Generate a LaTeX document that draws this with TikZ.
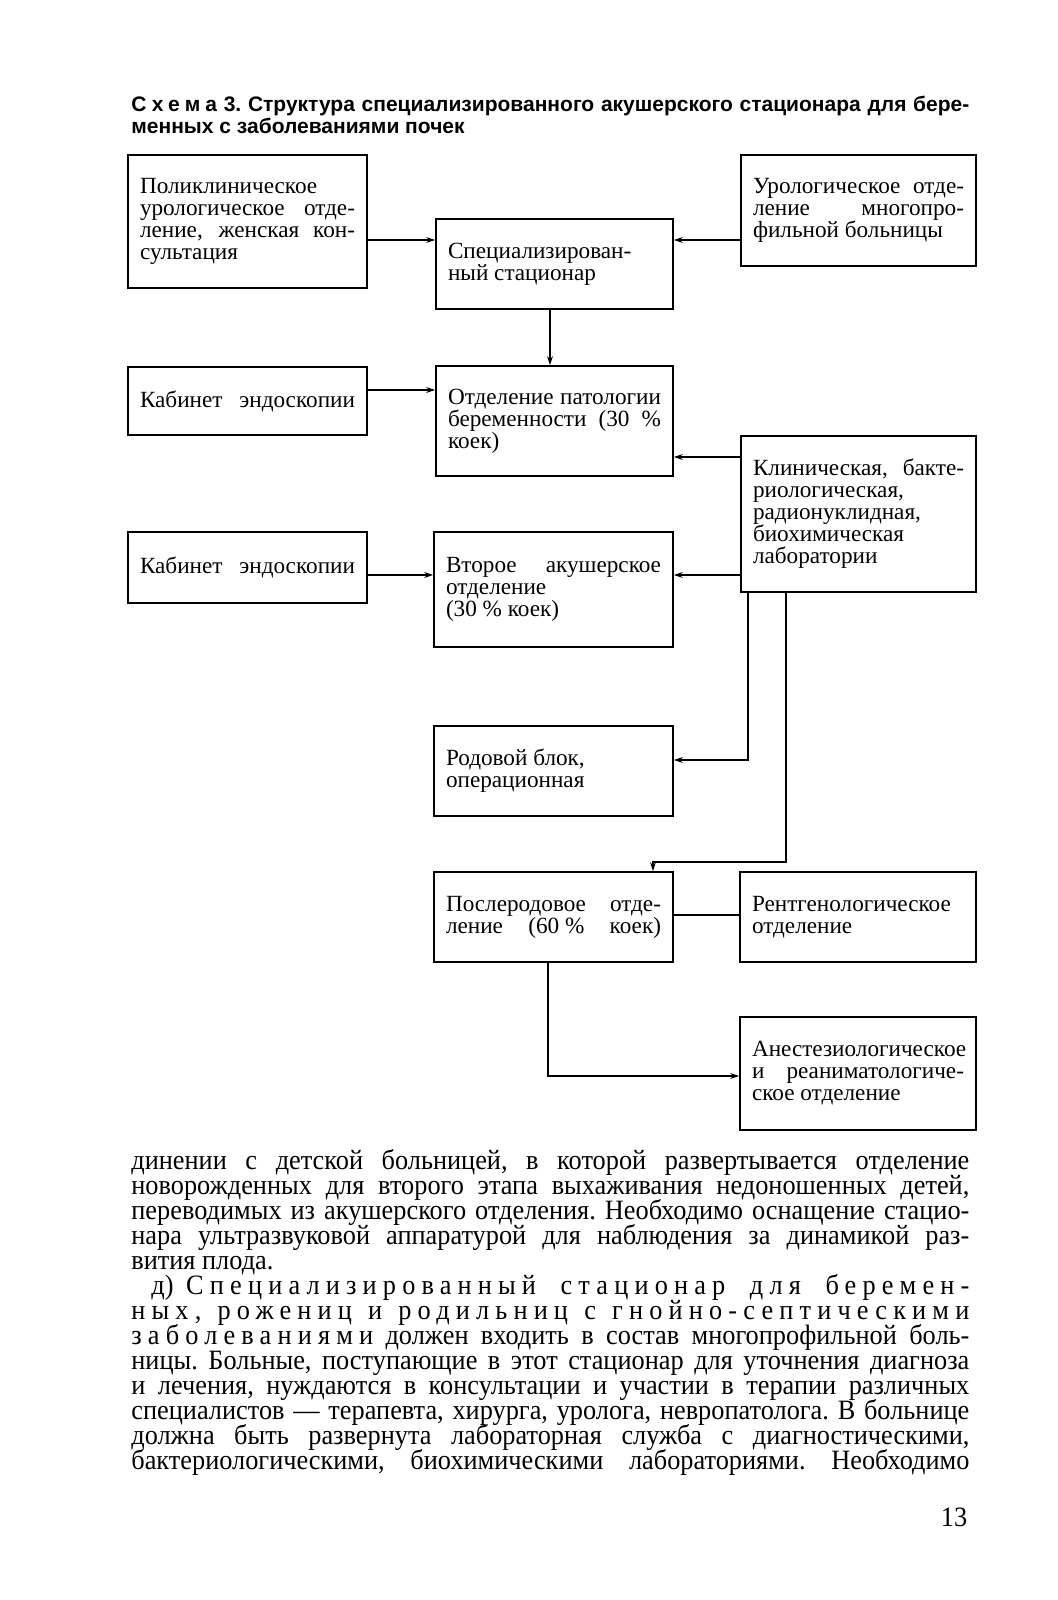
\documentclass[tikz,border=0pt]{standalone}
\usepackage{fontspec}
\setmainfont{Liberation Serif}
\newfontfamily\capfont{Liberation Sans}
\newfontfamily\narrowfont[FakeStretch=0.94, Ligatures=TeX]{Liberation Serif}
\usetikzlibrary{arrows.meta}

\newcommand{\boxfont}{\fontsize{11.6}{11}\selectfont}
\newcommand{\bodyfont}{\narrowfont\fontsize{14}{12.5}\selectfont\frenchspacing\lineskiplimit=-8pt\lineskip=0pt}
\newcommand{\spaced}[1]{{\addfontfeature{LetterSpace=22}#1}}

\tikzset{
  blk/.style={draw, line width=0.9pt, align=justify, inner xsep=6pt, inner ysep=2pt, font=\boxfont},
}

\begin{document}
\begin{tikzpicture}[x=0.5pt, y=-0.5pt]
\useasboundingbox [fill=white] (0,0) rectangle (1058,1600);

\node (cap) at (131,96) [anchor=north west, text width=419pt, align=justify, inner sep=0pt,
  font=\capfont\bfseries\fontsize{10.5}{11}\selectfont\frenchspacing]
  {{\addfontfeature{LetterSpace=25}Схема} 3. Структура специализированного акушерского стационара для бере-\linebreak
   менных с заболеваниями почек};

\node (polikl)   at (247.5,221.5) [blk, text width=107.5pt, minimum height=66.5pt]
  {Поликлиническое\\ урологическое отде-\linebreak ление, женская кон-\linebreak сультация};
\node (spec)     at (554.5,264)   [blk, text width=106.5pt, minimum height=45pt]
  {Специализирован-\\ ный стационар};
\node (urol)     at (858.5,210.5) [blk, text width=105.5pt, minimum height=55.5pt]
  {Урологическое отде-\linebreak ление многопро-\linebreak фильной больницы};
\node (endo1)    at (247.5,401)   [blk, text width=107.5pt, minimum height=34pt]
  {Кабинет\hspace{\fill}эндоскопии};
\node (patol)    at (554.5,421)   [blk, text width=106.5pt, minimum height=55pt]
  {Отделение патологии\linebreak беременности (30~\%\linebreak коек)};
\node (lab)      at (858.5,514)   [blk, text width=105.5pt, minimum height=78pt]
  {Клиническая, бакте-\linebreak риологическая,\\ радионуклидная,\\ биохимическая\\ лаборатории};
\node (endo2)    at (247.5,567.5) [blk, text width=107.5pt, minimum height=35.5pt]
  {Кабинет\hspace{\fill}эндоскопии};
\node (akush)    at (553.5,589.5) [blk, text width=107.5pt, minimum height=57.5pt]
  {Второе акушерское\linebreak отделение\\ (30~\% коек)};
\node (rodov)    at (553.5,771)   [blk, text width=107.5pt, minimum height=45pt]
  {Родовой блок,\\ операционная};
\node (poslerod) at (553.5,917)   [blk, text width=107.5pt, minimum height=45pt]
  {Послеродовое отде-\linebreak ление\hspace{\fill}(60~\%\hspace{\fill}коек)};
\node (rentgen)  at (858,917)     [blk, text width=106pt, minimum height=45pt]
  {Рентгенологическое\\ отделение};
\node (anest)    at (858,1073.5)  [blk, text width=106pt, minimum height=56.5pt]
  {Анестезиологическое\\ и реаниматологиче-\linebreak ское отделение};

\begin{scope}[line width=0.9pt, -{Stealth[length=4.5pt, width=3pt]}]
\draw (polikl.east |- 0,240) -- (spec.west |- 0,240);
\draw (urol.west |- 0,240) -- (spec.east |- 0,240);
\draw (spec.south -| 550,0) -- (patol.north -| 550,0);
\draw (endo1.east |- 0,390) -- (patol.west |- 0,390);
\draw (lab.west |- 0,457) -- (patol.east |- 0,457);
\draw (endo2.east |- 0,575) -- (akush.west |- 0,575);
\draw (lab.west |- 0,575) -- (akush.east |- 0,575);
\draw (lab.south -| 748,0) |- (rodov.east |- 0,760);
\draw (lab.south -| 786,0) -- (786,862) -| (poslerod.north -| 653,0);
\draw (poslerod.south -| 548,0) |- (anest.west |- 0,1076);
\end{scope}
\draw [line width=0.9pt] (poslerod.east |- 0,915) -- (rentgen.west |- 0,915);

\node (body) at (131,1149) [anchor=north west, text width=419pt, align=justify, inner sep=0pt, font=\bodyfont]
  {динении с детской больницей, в которой развертывается отделение\linebreak
   новорожденных для второго этапа выхаживания недоношенных детей,\linebreak
   переводимых из акушерского отделения. Необходимо оснащение стацио-\linebreak
   нара ультразвуковой аппаратурой для наблюдения за динамикой раз-\linebreak
   вития плода.\\
   \hspace*{10pt}д) \spaced{Специализированный стационар для беремен-}\linebreak
   \spaced{ных, рожениц и родильниц с гнойно-септическими}\linebreak
   \spaced{заболеваниями} должен входить в состав многопрофильной боль-\linebreak
   ницы. Больные, поступающие в этот стационар для уточнения диагноза\linebreak
   и лечения, нуждаются в консультации и участии в терапии различных\linebreak
   специалистов~— терапевта, хирурга, уролога, невропатолога. В больнице\linebreak
   должна быть развернута лабораторная служба с диагностическими,\linebreak
   бактериологическими, биохимическими лабораториями. Необходимо\linebreak};

\node (pnum) at (954,1517) [font=\bodyfont] {13};
\end{tikzpicture}
\end{document}
